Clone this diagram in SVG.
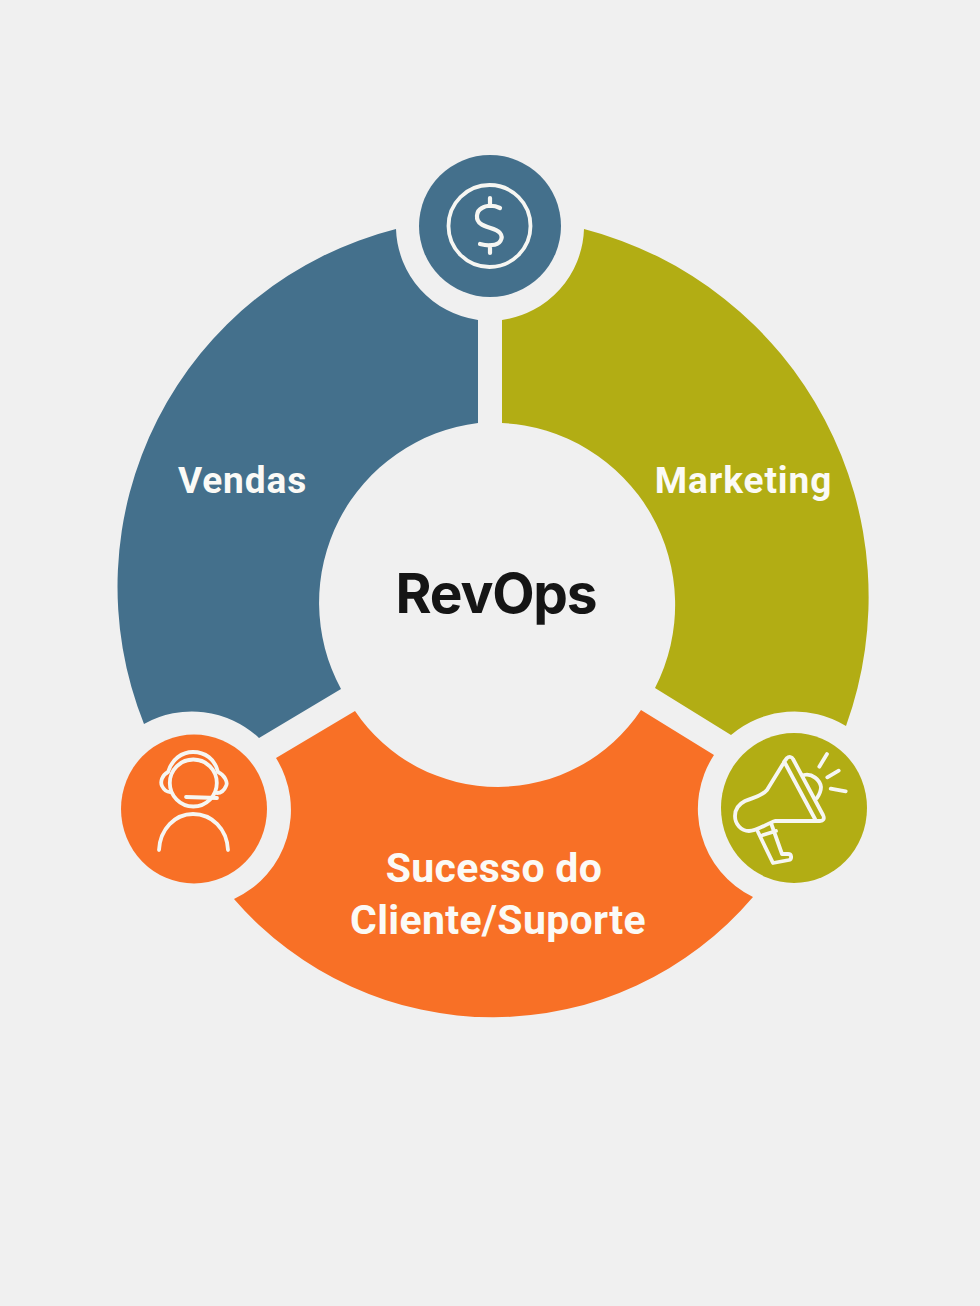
<svg xmlns="http://www.w3.org/2000/svg" width="980" height="1306" viewBox="0 0 980 1306">
<style>
.lbl{font-family:Roboto,"Liberation Sans",sans-serif;font-weight:700;font-size:37px;letter-spacing:.9px;fill:#fbfaf6;text-anchor:middle}
.big{font-size:41px;letter-spacing:.3px}
.ic{fill:none;stroke:#f6f6f2;stroke-width:3.8;stroke-linecap:round;stroke-linejoin:round}
.blue{fill:#44708c}.olive{fill:#b2ad14}.orange{fill:#f87026}
</style>
<rect width="980" height="1306" fill="#f0f0f0"/>
<g id="vendas">
<path class="blue" d="M396,229A369,369 0 0 0 144,724A98,98 0 0 1 259,738L341,689A181,181 0 0 1 478,423L478,320A95,95 0 0 1 396,229Z"/>
<text class="lbl" x="242.500" y="493">Vendas</text>
</g>
<g id="marketing">
<path class="olive" d="M584,229A380,380 0 0 1 846,726A98,98 0 0 0 731,735L655,688A182,182 0 0 0 502,423L502,320A95,95 0 0 0 584,229Z"/>
<text class="lbl" x="743.500" y="493">Marketing</text>
</g>
<g id="sucesso">
<path class="orange" d="M355,711A172,172 0 0 0 641,710L714,755A98,98 0 0 0 753,897A342,342 0 0 1 234,899A98,98 0 0 0 276,758Z"/>
<text class="lbl big" x="494" y="882">Sucesso do</text>
<text class="lbl big" x="498" y="934">Cliente/Suporte</text>
</g>
<g id="revops">
<text x="496" y="613" font-family="Inter,Roboto,'Liberation Sans',sans-serif" font-weight="700" font-size="55" letter-spacing="-1.200" fill="#151515" text-anchor="middle">RevOps</text>
</g>
<g id="icon-dollar">
<circle class="blue" cx="490" cy="226" r="71"/>
<circle class="ic" cx="489.500" cy="226" r="41"/>
<path class="ic" stroke-width="4.200" style="stroke-width:4.200px" d="M500,208C494,205 486,205 482,208C476,211 475,220 481,224C486,228 496,228 500,233C504,238 500,245 492,245C488,246 484,245 480,244M490,198V206M490,245V253"/>
</g>
<g id="icon-support">
<ellipse class="orange" cx="194" cy="809" rx="73" ry="74.500"/>
<circle class="ic" cx="193.300" cy="783" r="23.500"/>
<path class="ic" d="M168,772C172,759 182,752 193,752C205,752 215,759 218,772C225,775 228,783 226,786C224,791 220,793 217,793M168,772C162,775 160,782 162,786C164,790 167,792 170,792M186,797L217,798M159,850C160,829 175,814 193,814C212,814 227,829 228,850"/>
</g>
<g id="icon-megaphone">
<ellipse class="olive" cx="794" cy="808" rx="73" ry="75"/>
<path class="ic" d="M784,762L787,758C789,756 792,757 793,759L823,815C825,819 823,821 820,821L775,821C768,823 757,831 749,831C741,831 735,824 735,816C735,809 739,804 745,801C755,797 762,796 767,790L783,764M785,763L815,819M804,775C812,773 820,780 821,787C821,791 819,795 817,798M758,832L773,863L789,860C792,859 792,854 788,854L782,854L771,823M763,835L776,831M827,754L819.300,766.700M838.700,770.700L827.300,777.300M830.700,788.700L845.700,791.300"/>
</g>
</svg>
